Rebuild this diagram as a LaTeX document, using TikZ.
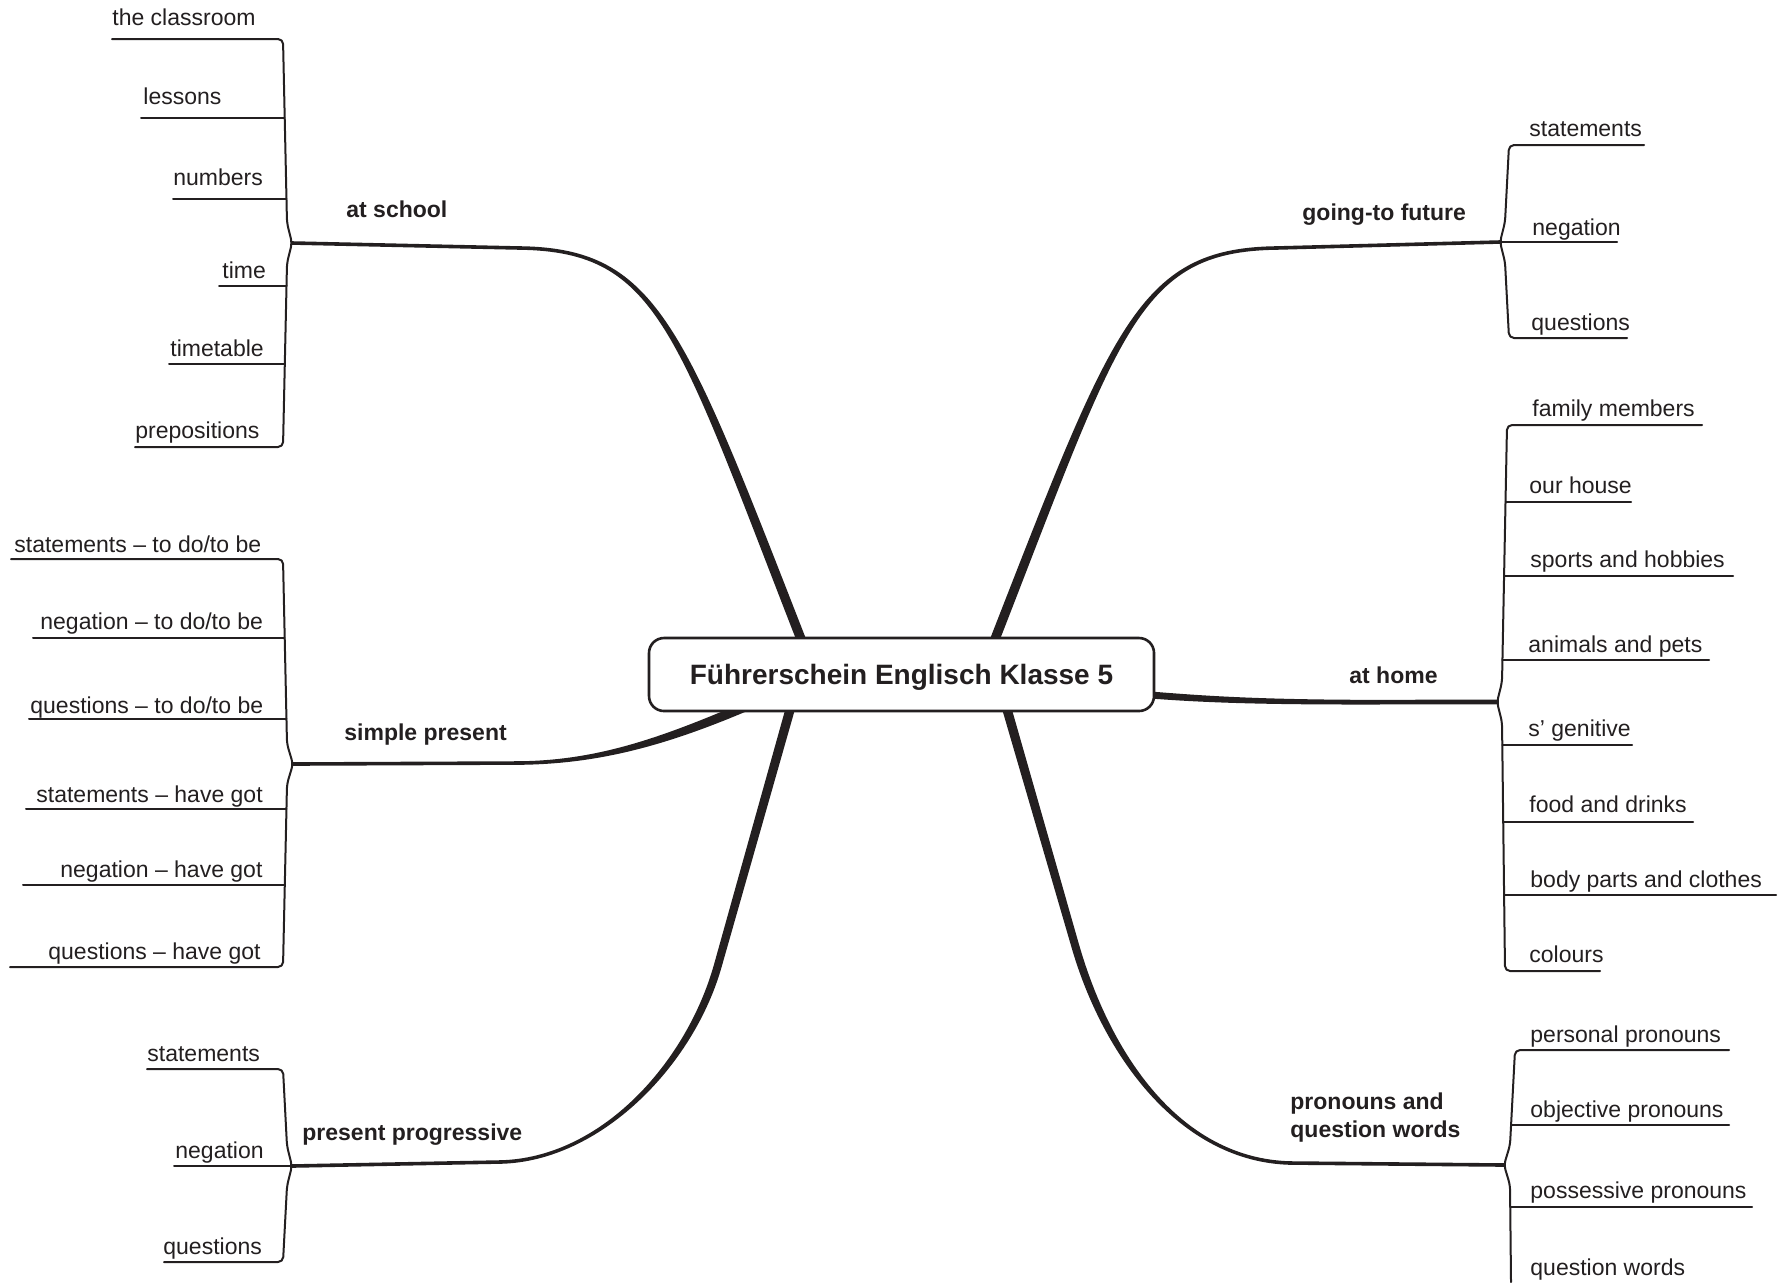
\documentclass[tikz,border=0pt]{standalone}
\usepackage{fontspec}
\setmainfont{Liberation Sans}
\usetikzlibrary{calc,backgrounds}
\definecolor{ink}{RGB}{35,31,32}
% tapered branch: hub -- joint .. c1 c2 .. end
\newcommand\taperA[7]{\fill[ink] ($(#1)+#6$) -- ($(#2)+#6$) .. controls ($(#3)+#6$) and ($(#4)+#7$) .. ($(#5)+#7$) -- ($(#5)-#7$) .. controls ($(#4)-#7$) and ($(#3)-#6$) .. ($(#2)-#6$) -- ($(#1)-#6$) -- cycle;}
% tapered branch: hub -- joint .. c1 c2 .. joint2 -- end
\newcommand\taperB[9]{\fill[ink] ($(#1)+#7$) -- ($(#2)+#7$) .. controls ($(#3)+#7$) and ($(#4)+#8$) .. ($(#5)+#8$) -- ($(#6)+#9$) -- ($(#6)-#9$) -- ($(#5)-#8$) .. controls ($(#4)-#8$) and ($(#3)-#7$) .. ($(#2)-#7$) -- ($(#1)-#7$) -- cycle;}
\begin{document}
\begin{tikzpicture}[x=0.5pt,y=-0.5pt,
  leaf/.style={anchor=base west, inner sep=0pt, text=ink, font=\fontsize{11.5}{14}\selectfont},
  topic/.style={leaf, font=\fontsize{11.5}{14}\selectfont\bfseries},
  twig/.style={draw=ink, line width=1pt, line cap=round, line join=round},
  brace/.style={twig, rounded corners=2.5pt},
  title/.style={draw=ink, line width=1.3pt, fill=white, rounded corners=7.5pt,
    minimum width=252.5pt, minimum height=36.5pt, inner sep=0pt, text=ink,
    text height=10pt, text depth=0pt,
    font=\fontsize{14}{17}\selectfont\bfseries}]
\path[use as bounding box] (0,0) rectangle (1780,1282);

% central node
\node[title] (center) at (901.5,674.5) {Führerschein Englisch Klasse 5};

% hubs and branch geometry
\coordinate (hA) at (292,243);  \coordinate (jA) at (520,248);  \coordinate (cA1) at (660,250);  \coordinate (cA2) at (680,330);  \coordinate (eA) at (808,657);
\coordinate (hB) at (1500,242); \coordinate (jB) at (1276,248); \coordinate (cB1) at (1136,250); \coordinate (cB2) at (1116,330); \coordinate (eB) at (988,657);
\coordinate (hC) at (293,764);  \coordinate (jC) at (520,763);  \coordinate (cC1) at (600,762);  \coordinate (cC2) at (666,741);  \coordinate (eC) at (754,703);
\coordinate (hD) at (292,1166); \coordinate (jD1) at (500,1162); \coordinate (cD1) at (600,1160); \coordinate (cD2) at (690,1065); \coordinate (jD2) at (718,965); \coordinate (eD) at (795,692);
\coordinate (hE) at (1497,702); \coordinate (jE) at (1420,702); \coordinate (cE1) at (1260,703); \coordinate (cE2) at (1200,699); \coordinate (eE) at (1138,694);
\coordinate (hF) at (1504,1165); \coordinate (jF1) at (1290,1163); \coordinate (cF1) at (1180,1160); \coordinate (cF2) at (1106.5,1055); \coordinate (jF2) at (1075,945); \coordinate (eF) at (1002,692);

\begin{pgfonlayer}{background}
\taperA{hA}{jA}{cA1}{cA2}{eA}{(0,-1.8)}{(4.4,-1.72)}
\taperA{hB}{jB}{cB1}{cB2}{eB}{(0,-1.8)}{(-4.4,-1.72)}
\taperA{hC}{jC}{cC1}{cC2}{eC}{(0,-1.8)}{(-1.85,-4.3)}
\taperB{hD}{jD1}{cD1}{cD2}{jD2}{eD}{(0,-1.8)}{(-3.85,-1.09)}{(-4.52,-1.28)}
\taperA{hE}{jE}{cE1}{cE2}{eE}{(0,2.3)}{(-0.28,3.5)}
\taperB{hF}{jF1}{cF1}{cF2}{jF2}{eF}{(0,1.8)}{(-3.85,1.1)}{(-4.52,1.3)}
\end{pgfonlayer}

% topic labels
\node[topic] (tA) at (346,217) {at school};
\node[topic] (tB) at (1302,220) {going-to future};
\node[topic] (tC) at (344,740) {simple present};
\node[topic] (tD) at (302,1140) {present progressive};
\node[topic] (tE) at (1349,683) {at home};
\node[topic, align=left] (tF) at (1290,1137) {pronouns and\\question words};

% at school
\node[leaf] (s1) at (112,25) {the classroom};
\node[leaf] (s2) at (143,104) {lessons};
\node[leaf] (s3) at (173,185) {numbers};
\node[leaf] (s4) at (222,278) {time};
\node[leaf] (s5) at (170,356) {timetable};
\node[leaf] (s6) at (135,438) {prepositions};
\draw[brace] ($(s1.base west)+(0,14)$) -- (283,39) -- (287,223) -- (hA) -- (287,263) -- (283,447) -- ($(s6.base west)+(0,9)$);
\draw[twig] ($(s2.base west)+(-2,14)$) -- (284.7,118);
\draw[twig] ($(s3.base west)+(0,14)$) -- (286.5,199);
\draw[twig] ($(s4.base west)+(-3,8)$) -- (286.5,286);
\draw[twig] ($(s5.base west)+(-1,8)$) -- (284.8,364);

% simple present
\node[leaf] (p1) at (14,552) {statements – to do/to be};
\node[leaf] (p2) at (40,629) {negation – to do/to be};
\node[leaf] (p3) at (30,713) {questions – to do/to be};
\node[leaf] (p4) at (36,802) {statements – have got};
\node[leaf] (p5) at (60,877) {negation – have got};
\node[leaf] (p6) at (48,959) {questions – have got};
\draw[brace] ($(p1.base west)+(-3,7)$) -- (283,559) -- (287,744) -- (hC) -- (287,784) -- (283,967) -- ($(p6.base west)+(-38,8)$);
\draw[twig] ($(p2.base west)+(-7,9)$) -- (284.7,638);
\draw[twig] ($(p3.base west)+(-1,6)$) -- (286.5,719);
\draw[twig] ($(p4.base west)+(-10,7)$) -- (286.5,809);
\draw[twig] ($(p5.base west)+(-37,8)$) -- (284.9,885);

% present progressive
\node[leaf] (g1) at (147,1061) {statements};
\node[leaf] (g2) at (175,1158) {negation};
\node[leaf] (g3) at (163,1254) {questions};
\draw[brace] ($(g1.base west)+(0,8)$) -- (283,1069) -- (287,1146) -- (hD) -- (287,1186) -- (283,1262) -- ($(g3.base west)+(1,8)$);
\draw[twig] ($(g2.base west)+(-1,8)$) -- (hD);

% going-to future
\node[leaf] (f1) at (1529,136) {statements};
\node[leaf] (f2) at (1532,235) {negation};
\node[leaf] (f3) at (1531,330) {questions};
\draw[brace] ($(f1.base west)+(115,9)$) -- (1509,145) -- (1505,222) -- (hB) -- (1505,262) -- (1509,338) -- ($(f3.base west)+(96,8)$);
\draw[twig] (hB) -- ($(f2.base west)+(85,7)$);

% at home
\node[leaf] (h1) at (1532,416) {family members};
\node[leaf] (h2) at (1529,493) {our house};
\node[leaf] (h3) at (1530,567) {sports and hobbies};
\node[leaf] (h4) at (1528,652) {animals and pets};
\node[leaf] (h5) at (1528,736) {s’ genitive};
\node[leaf] (h6) at (1529,812) {food and drinks};
\node[leaf] (h7) at (1530,887) {body parts and clothes};
\node[leaf] (h8) at (1529,962) {colours};
\draw[brace] ($(h1.base west)+(170,9)$) -- (1507,425) -- (1502,682) -- (hE) -- (1502,722) -- (1505,971) -- ($(h8.base west)+(71,9)$);
\draw[twig] (1505.5,502) -- ($(h2.base west)+(102,9)$);
\draw[twig] (1504,576) -- ($(h3.base west)+(203,9)$);
\draw[twig] (1502.4,660) -- ($(h4.base west)+(181,8)$);
\draw[twig] (1502.3,745) -- ($(h5.base west)+(104,9)$);
\draw[twig] (1503.7,822) -- ($(h6.base west)+(164,10)$);
\draw[twig] (1504.1,895) -- ($(h7.base west)+(246,8)$);

% pronouns and question words
\node[leaf] (q1) at (1530,1042) {personal pronouns};
\node[leaf] (q2) at (1530,1117) {objective pronouns};
\node[leaf] (q3) at (1530,1198) {possessive pronouns};
\node[leaf] (q4) at (1530,1275) {question words};
\draw[brace] ($(q1.base west)+(199,8)$) -- (1515,1050) -- (1510,1145) -- (hF) -- (1510,1185) -- (1511,1282);
\draw[twig] (1511,1125) -- ($(q2.base west)+(199,8)$);
\draw[twig] (1510,1207) -- ($(q3.base west)+(222,9)$);
\end{tikzpicture}
\end{document}
